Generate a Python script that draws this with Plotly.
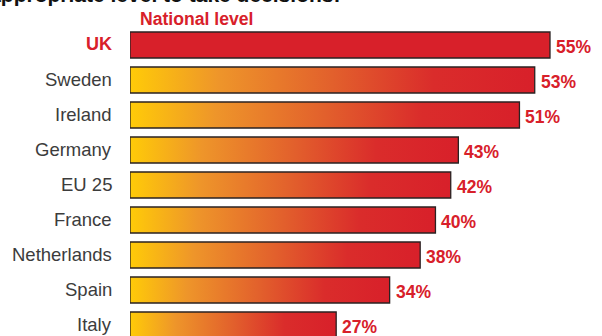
import plotly.graph_objects as go

# Survey shares choosing the national level
countries = ["UK", "Sweden", "Ireland", "Germany", "EU 25", "France",
             "Netherlands", "Spain", "Italy"]
values = [55, 53, 51, 43, 42, 40, 38, 34, 27]
value_labels = ["55%", "53%", "51%", "43%", "42%", "40%", "38%", "34%", "27%"]

RED = "#D8202A"
GREY = "#3C3C3C"
FONT = "Liberation Sans, Arial, Helvetica, sans-serif"

W, H = 602, 336
LEFT = 130            # pixel where the value axis starts
PX_PER_UNIT = 420 / 55
X_MAX = (W - LEFT) / PX_PER_UNIT
ROW_TOP, ROW_PITCH = 45, 35
Y_TOP = -ROW_TOP / ROW_PITCH
Y_BOT = (H - ROW_TOP) / ROW_PITCH
HALF = 13 / ROW_PITCH


def px_x(px):
    """Horizontal pixel -> paper coordinate."""
    return (px - LEFT) / (W - LEFT)


def px_y(px):
    """Vertical pixel (from top) -> paper coordinate."""
    return 1 - px / H


gradient = [[0.0, "#FFCB08"], [0.22, "#EE952A"], [0.5, "#E2602C"],
            [0.75, "#DA2C2B"], [1.0, "#D8202A"]]

fig = go.Figure()
for i, (name, v) in enumerate(zip(countries, values)):
    xs = [0, v, v, 0, 0]
    ys = [i - HALF, i - HALF, i + HALF, i + HALF, i - HALF]
    trace = dict(x=xs, y=ys, mode="lines", fill="toself",
                 line=dict(color="#2A2222", width=1.3),
                 hoverinfo="skip", showlegend=False)
    if name == "UK":
        trace["fillcolor"] = RED
    else:
        trace["fillgradient"] = dict(type="horizontal", colorscale=gradient)
    fig.add_trace(go.Scatter(**trace))

annotations = []
for i, (name, v, lab) in enumerate(zip(countries, values, value_labels)):
    is_uk = name == "UK"
    row_px = ROW_TOP + ROW_PITCH * i
    annotations.append(dict(
        x=px_x(114), y=px_y(row_px - 0.5), xref="paper", yref="paper",
        text=f"<b>{name}</b>" if is_uk else name,
        xanchor="right", yanchor="middle", showarrow=False,
        font=dict(family=FONT, size=18 if is_uk else 18.5,
                  color=RED if is_uk else GREY)))
    annotations.append(dict(
        x=v + 4 / PX_PER_UNIT, y=px_y(row_px + 1.5), xref="x", yref="paper",
        text=f"<b>{lab}</b>",
        xanchor="left", yanchor="middle", showarrow=False,
        font=dict(family=FONT, size=17.5, color=RED)))

annotations.append(dict(
    x=px_x(138), y=px_y(18.5), xref="paper", yref="paper",
    text="<b>National level</b>", xanchor="left", yanchor="middle",
    showarrow=False, font=dict(family=FONT, size=17.6, color=RED)))

annotations.append(dict(
    x=px_x(342), y=px_y(-5.8), xref="paper", yref="paper",
    text="<b>The most appropriate level to take decisions:</b>",
    xanchor="right", yanchor="middle", showarrow=False,
    font=dict(family=FONT, size=21, color="#111111")))

fig.update_layout(
    width=W, height=H,
    margin=dict(l=LEFT, r=0, t=0, b=0),
    paper_bgcolor="white", plot_bgcolor="white",
    xaxis=dict(range=[0, X_MAX], visible=False, fixedrange=True),
    yaxis=dict(range=[Y_BOT, Y_TOP], visible=False, fixedrange=True),
    annotations=annotations,
    showlegend=False,
)

fig.write_html("out.html", config={"displayModeBar": False})
